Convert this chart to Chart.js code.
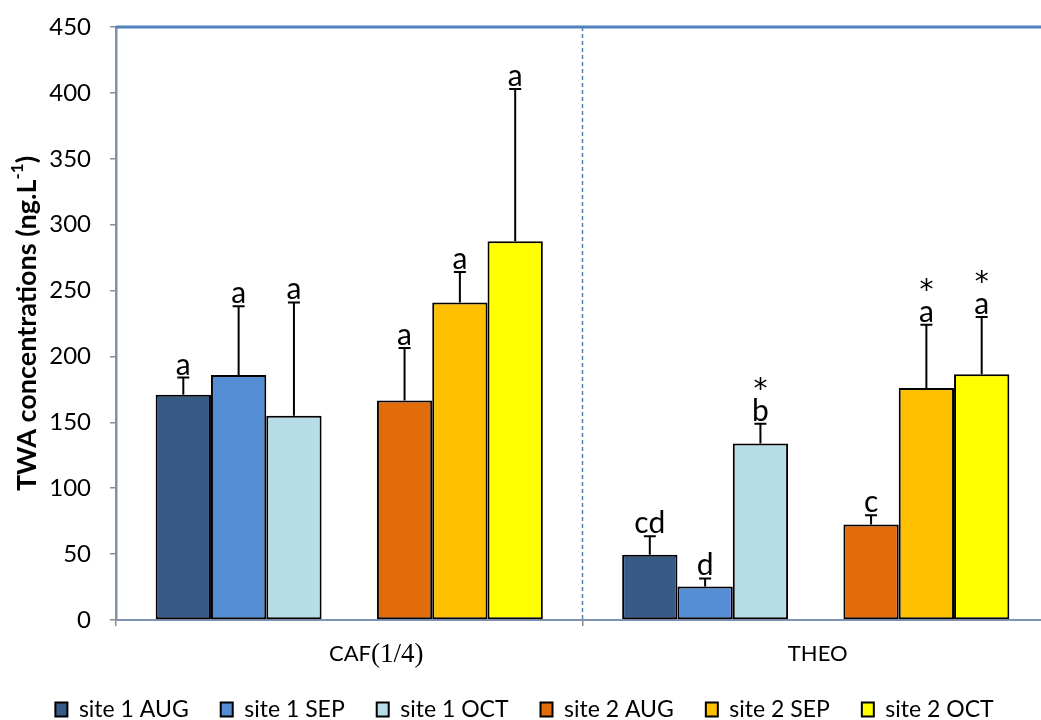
<!DOCTYPE html>
<html>
<head>
<meta charset="utf-8">
<script src="https://cdn.jsdelivr.net/npm/chart.js@4.4.1/dist/chart.umd.min.js"></script>
<style>
  html, body { margin: 0; padding: 0; background: #fff; overflow: hidden; width: 1041px; height: 720px; }
  canvas { display: block; }
</style>
</head>
<body>
<canvas id="chart" width="1062" height="720"></canvas>
<script>
// Compound groups on the category axis
const categories = ['CAF(1/4)', 'THEO'];

// Time-weighted average concentrations (ng/L), one value per compound
const site1Aug = [171, 49.5];
const site1Sep = [186, 25.5];
const site1Oct = [155, 134];
const site2Aug = [166.5, 72.5];
const site2Sep = [241, 176];
const site2Oct = [287.5, 186.5];

// Upper error bar (standard deviation)
const site1AugErr = [13, 14];
const site1SepErr = [52, 6];
const site1OctErr = [86, 15];
const site2AugErr = [40, 7];
const site2SepErr = [23, 48];
const site2OctErr = [115.5, 43.5];

// Significance letters and asterisks above each bar
const site1AugLetters = ['a', 'cd'];
const site1SepLetters = ['a', 'd'];
const site1OctLetters = ['a', 'b'];
const site2AugLetters = ['a', 'c'];
const site2SepLetters = ['a', 'a'];
const site2OctLetters = ['a', 'a'];
const site1AugStars = [false, false];
const site1SepStars = [false, false];
const site1OctStars = [false, true];
const site2AugStars = [false, false];
const site2SepStars = [false, true];
const site2OctStars = [false, true];

// Value axis range
const yMin = 0;
const yMax = 450;
const yStep = 50;

const SANS = 'Lato, "Open Sans", sans-serif';

function series(label, data, err, letters, stars, color) {
  return {
    label, data, err, letters, stars,
    backgroundColor: color,
    borderColor: '#000000',
    borderWidth: 2,
    borderSkipped: false
  };
}

const datasets = [
  series('site 1 AUG', site1Aug, site1AugErr, site1AugLetters, site1AugStars, '#375A87'),
  series('site 1 SEP', site1Sep, site1SepErr, site1SepLetters, site1SepStars, '#558ED5'),
  series('site 1 OCT', site1Oct, site1OctErr, site1OctLetters, site1OctStars, '#B7DEE8'),
  // empty slot separating the two sites inside each group
  { label: '', data: categories.map(() => null), spacer: true, backgroundColor: 'rgba(0,0,0,0)', borderWidth: 0 },
  series('site 2 AUG', site2Aug, site2AugErr, site2AugLetters, site2AugStars, '#E36C0A'),
  series('site 2 SEP', site2Sep, site2SepErr, site2SepLetters, site2SepStars, '#FFC000'),
  series('site 2 OCT', site2Oct, site2OctErr, site2OctLetters, site2OctStars, '#FFFF00')
];

// Error bars with significance labels above them
const errorBarPlugin = {
  id: 'errorBars',
  afterDatasetsDraw(chart) {
    const ctx = chart.ctx;
    const y = chart.scales.y;
    ctx.save();
    chart.data.datasets.forEach((ds, i) => {
      if (ds.spacer) return;
      const meta = chart.getDatasetMeta(i);
      meta.data.forEach((bar, j) => {
        const v = ds.data[j];
        if (v == null) return;
        const topPx = y.getPixelForValue(v + ds.err[j]);
        ctx.strokeStyle = '#000';
        ctx.lineWidth = 2;
        ctx.beginPath();
        ctx.moveTo(bar.x, bar.y);
        ctx.lineTo(bar.x, topPx);
        ctx.moveTo(bar.x - 6, topPx);
        ctx.lineTo(bar.x + 6, topPx);
        ctx.stroke();
        ctx.fillStyle = '#000';
        ctx.textAlign = 'center';
        ctx.textBaseline = 'alphabetic';
        ctx.font = '30px ' + SANS;
        const base = topPx - 3;
        ctx.fillText(ds.letters[j], bar.x, base);
        if (ds.stars[j]) {
          ctx.font = '28px "DejaVu Sans", sans-serif';
          ctx.fillText('*', bar.x, base - 23);
        }
      });
    });
    ctx.restore();
  }
};

// Legend row sits a little lower than the default bottom placement
const legendOffsetPlugin = {
  id: 'legendOffset',
  afterLayout(chart) {
    const lg = chart.legend;
    if (lg) { lg.top += 11; lg.bottom += 11; }
  }
};

// Frame details: top border, dashed group divider, axis title and group labels
const framePlugin = {
  id: 'frame',
  afterDraw(chart) {
    const ctx = chart.ctx;
    const a = chart.chartArea;
    const x = chart.scales.x;
    ctx.save();
    // dashed divider between the compound groups
    const mid = (x.getPixelForValue(0) + x.getPixelForValue(1)) / 2;
    ctx.strokeStyle = '#4F81BD';
    ctx.lineWidth = 1.5;
    ctx.setLineDash([4, 3]);
    ctx.beginPath();
    ctx.moveTo(mid, a.top);
    ctx.lineTo(mid, a.bottom);
    ctx.stroke();
    ctx.setLineDash([]);
    // top border
    ctx.strokeStyle = '#4F81BD';
    ctx.lineWidth = 3;
    ctx.beginPath();
    ctx.moveTo(a.left, a.top);
    ctx.lineTo(a.right, a.top);
    ctx.stroke();

    // group labels (fraction part set in a serif face)
    ctx.fillStyle = '#000';
    ctx.textBaseline = 'middle';
    ctx.textAlign = 'left';
    const labelY = a.bottom + 34;
    const shift = [27, 2];
    categories.forEach((cat, i) => {
      const k = cat.indexOf('(');
      const head = k >= 0 ? cat.slice(0, k) : cat;
      const tail = k >= 0 ? cat.slice(k) : '';
      const fHead = '22px ' + SANS;
      const fTail = '27px "Liberation Serif", "DejaVu Serif", serif';
      ctx.font = fHead;
      const wHead = ctx.measureText(head).width;
      ctx.font = fTail;
      const wTail = tail ? ctx.measureText(tail).width : 0;
      let cx = x.getPixelForValue(i) + shift[i] - (wHead + wTail) / 2;
      ctx.font = fHead;
      ctx.fillText(head, cx, labelY);
      if (tail) {
        ctx.font = fTail;
        ctx.fillText(tail, cx + wHead, labelY + 1);
      }
    });

    // rotated axis title with superscript
    ctx.translate(27, (a.top + a.bottom) / 2);
    ctx.rotate(-Math.PI / 2);
    const main = 'TWA concentrations (ng.L';
    const sup = '-1';
    const close = ')';
    const fMain = 'bold 27px ' + SANS;
    const fSup = 'bold 17px ' + SANS;
    ctx.font = fMain;
    const w1 = ctx.measureText(main).width;
    const w3 = ctx.measureText(close).width;
    ctx.font = fSup;
    const w2 = ctx.measureText(sup).width;
    let sx = -(w1 + w2 + w3) / 2;
    ctx.textAlign = 'left';
    ctx.textBaseline = 'middle';
    ctx.font = fMain;
    ctx.fillText(main, sx, 0);
    ctx.font = fSup;
    ctx.fillText(sup, sx + w1, -9);
    ctx.font = fMain;
    ctx.fillText(close, sx + w1 + w2, 0);
    ctx.restore();
  }
};

new Chart(document.getElementById('chart'), {
  type: 'bar',
  data: { labels: categories, datasets },
  options: {
    responsive: false,
    animation: false,
    events: [],
    layout: { padding: { top: 27, right: 13, left: 0, bottom: 0 } },
    datasets: { bar: { categoryPercentage: 0.83, barPercentage: 1.0 } },
    scales: {
      x: {
        offset: true,
        grid: { display: true, drawOnChartArea: false, drawTicks: true, tickLength: 6, color: '#8C8C8C', lineWidth: 1.5, offset: true },
        border: { display: true, color: '#7F93B2', width: 2 },
        ticks: { display: false },
        afterFit(s) { s.height = 35; }
      },
      y: {
        min: yMin, max: yMax,
        ticks: { stepSize: yStep, color: '#000', font: { family: SANS, size: 24, lineHeight: 0.5 }, padding: 19 },
        grid: { display: true, drawOnChartArea: false, drawTicks: true, tickLength: 6, color: '#8C8C8C', lineWidth: 1.5 },
        border: { display: true, color: '#8391A8', width: 2.5 },
        afterFit(s) { s.width = 116; }
      }
    },
    plugins: {
      legend: {
        position: 'bottom',
        labels: {
          color: '#000',
          font: { family: SANS, size: 23 },
          boxWidth: 12,
          boxHeight: 14,
          padding: 32,
          filter: item => item.text !== ''
        }
      },
      tooltip: { enabled: false }
    }
  },
  plugins: [errorBarPlugin, legendOffsetPlugin, framePlugin]
});
</script>
</body>
</html>
